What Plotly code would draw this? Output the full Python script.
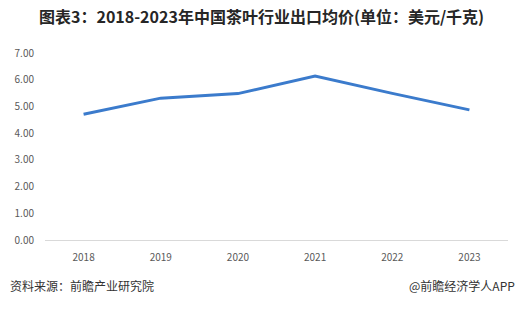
import plotly.graph_objects as go

years = ["2018", "2019", "2020", "2021", "2022", "2023"]
prices = [4.71, 5.31, 5.48, 6.14, 5.49, 4.87]
y_ticks = [0, 1, 2, 3, 4, 5, 6, 7]
y_labels = ["0.00", "1.00", "2.00", "3.00", "4.00", "5.00", "6.00", "7.00"]

title = "图表3：2018-2023年中国茶叶行业出口均价(单位：美元/千克)"
source = "资料来源：前瞻产业研究院"
credit = "@前瞻经济学人APP"

W, H = 523, 309
l, r, t, b = 45, 15, 53, 69
pw, ph = W - l - r, H - t - b


def px(xp, yp):
    return (xp - l) / pw, (H - b - yp) / ph


font_cn = "Noto Sans CJK SC, Microsoft YaHei, sans-serif"

fig = go.Figure()
fig.add_trace(go.Scatter(x=years, y=prices, mode="lines",
                         line=dict(color="#3b7bcc", width=3)))

tx, ty = px(W / 2, 16)
sx, sy = px(8, 285)
cx, cy = px(517, 285)

fig.update_layout(
    width=W, height=H,
    margin=dict(l=l, r=r, t=t, b=b),
    plot_bgcolor="white", paper_bgcolor="white",
    showlegend=False,
    font=dict(family=font_cn, color="#595959", size=10),
    xaxis=dict(type="category", range=[-0.5, 5.5], showgrid=False, showline=True,
               linecolor="#d9d9d9", linewidth=1, ticks="", ticklabelstandoff=8,
               tickfont=dict(size=10, color="#595959")),
    yaxis=dict(range=[0, 7], tickvals=y_ticks, ticktext=y_labels, showgrid=False,
               zeroline=False, showline=False, ticks="", ticklabelstandoff=10,
               tickfont=dict(size=10, color="#595959")),
    annotations=[
        dict(text="<b>" + title + "</b>", x=tx, y=ty, xref="paper", yref="paper",
             showarrow=False, yanchor="middle",
             font=dict(size=16, color="#262626", family=font_cn)),
        dict(text=source, x=sx, y=sy, xref="paper", yref="paper", showarrow=False,
             xanchor="left", yanchor="middle",
             font=dict(size=12, color="#333333", family=font_cn)),
        dict(text=credit, x=cx, y=cy, xref="paper", yref="paper", showarrow=False,
             xanchor="right", yanchor="middle",
             font=dict(size=12, color="#333333", family=font_cn)),
    ],
)

fig.write_html("out.html")
